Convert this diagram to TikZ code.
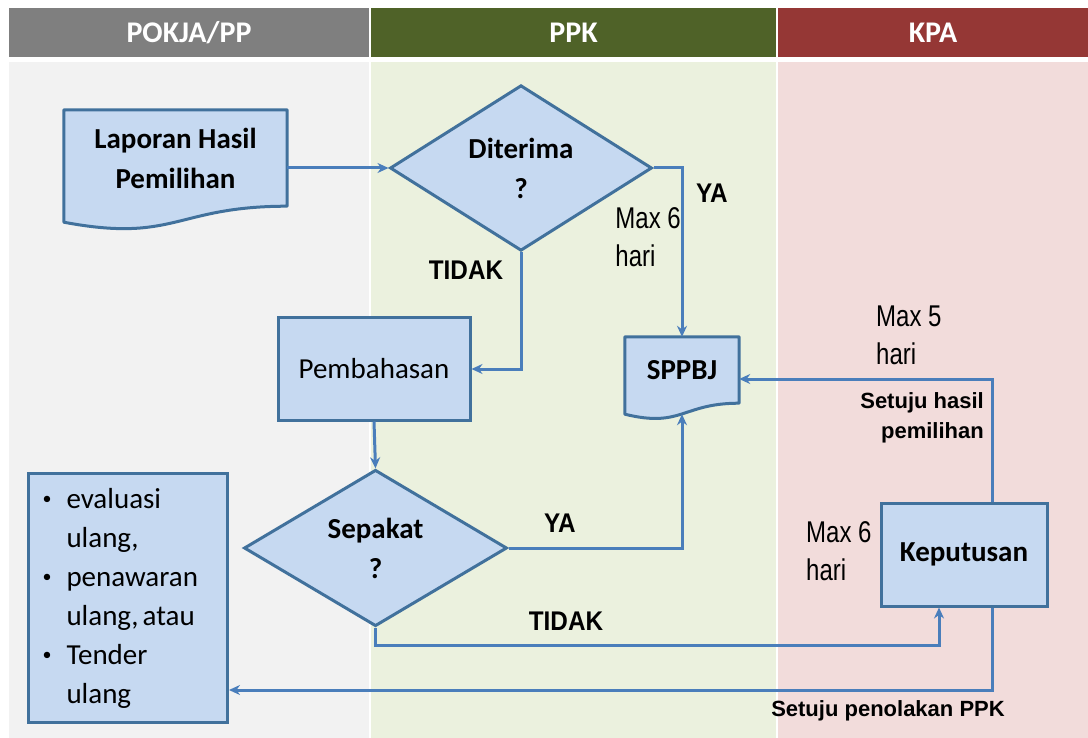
\documentclass[tikz,border=0pt]{standalone}
\usepackage{fontspec}
\setmainfont{Carlito}
\newfontfamily\arialfont{Liberation Sans}
\newfontfamily\narrowfont[FakeStretch=0.8]{Liberation Sans}
\newfontfamily\yesnofont[FakeStretch=0.9]{Liberation Sans}
\usetikzlibrary{shapes.geometric,arrows.meta,calc}
\definecolor{boxfill}{RGB}{198,217,241}
\definecolor{boxline}{RGB}{65,113,156}
\definecolor{flowline}{RGB}{74,126,187}
\definecolor{headgray}{RGB}{127,127,127}
\definecolor{headgreen}{RGB}{79,98,40}
\definecolor{headred}{RGB}{149,55,53}
\definecolor{lanegray}{RGB}{242,242,242}
\definecolor{lanegreen}{RGB}{235,241,222}
\definecolor{lanered}{RGB}{242,220,219}
\pgfdeclarelayer{lanes}
\pgfdeclarelayer{docs}
\pgfsetlayers{lanes,docs,main}
\newcommand{\bul}{\makebox[24pt][l]{\raisebox{3.5pt}{\fontsize{18}{18}\selectfont\textbullet}}}
\tikzset{
  head/.style={minimum height=49pt, inner sep=0pt, text=white, font=\fontsize{30}{32}\selectfont\bfseries},
  box/.style={draw=boxline, fill=boxfill, line width=3pt, align=center, inner sep=0pt, font=\fontsize{29}{40}\selectfont},
  dec/.style={box, diamond, font=\fontsize{29}{40}\selectfont\bfseries},
  doc/.style={align=center, inner sep=0pt, font=\fontsize{29}{40}\selectfont\bfseries},
  docshape/.style={draw=boxline, fill=boxfill, line width=3pt, line join=round},
  flow/.style={draw=flowline, line width=3pt, -{Stealth[length=11pt,width=10pt]}},
  lbl/.style={inner sep=0pt, font=\yesnofont\fontsize{27}{30}\selectfont\bfseries},
  lblsmall/.style={inner sep=0pt, align=right, font=\arialfont\fontsize{22}{30}\selectfont\bfseries},
  maxlbl/.style={inner sep=0pt, align=left, font=\narrowfont\fontsize{30}{38}\selectfont}
}

\begin{document}
\begin{tikzpicture}[x=1pt, y=-1pt]
  \useasboundingbox (0,0) rectangle (1088,738);
  % Lanes
  \begin{pgfonlayer}{lanes}
    \fill[white] (0,0) rectangle (1088,738);
    \fill[lanegray] (9,62) rectangle (369,738);
    \fill[lanegreen] (371,62) rectangle (776,738);
    \fill[lanered] (778,62) rectangle (1088,738);
  \end{pgfonlayer}
  \node[head, fill=headgray, minimum width=360pt] (HP) at (189,32.5) {POKJA/PP};
  \node[head, fill=headgreen, minimum width=405pt] (HK) at (573.5,32.5) {PPK};
  \node[head, fill=headred, minimum width=310pt] (HA) at (933,32.5) {KPA};
  % Nodes
  \node[doc, minimum width=223pt, minimum height=96pt] (LHP) at (175.5,158) {Laporan Hasil\\Pemilihan};
  \node[dec, minimum width=262pt, minimum height=154pt] (D1) at (521,168) {Diterima\\?};
  \node[box, minimum width=192pt, minimum height=102pt] (PB) at (374,369) {Pembahasan};
  \node[dec, minimum width=263pt, minimum height=153pt] (D2) at (375.5,548) {Sepakat\\?};
  \node[doc, minimum width=114pt, minimum height=66pt] (SP) at (682,370) {SPPBJ};
  \node[box, minimum width=166pt, minimum height=103pt, font=\fontsize{29}{40}\selectfont\bfseries] (KP) at (964,554.5) {Keputusan};
  \node[box, anchor=north west, minimum width=199pt, minimum height=249pt, text width=171pt, align=left, font=\fontsize{29}{39}\selectfont] (UL) at (27,472)
    {\bul evaluasi\\
     \hspace*{24pt}ulang,\\
     \bul penawaran\\
     \hspace*{24pt}ulang,\hspace{4pt}atau\\
     \bul Tender\\
     \hspace*{24pt}ulang};
  \begin{pgfonlayer}{docs}
    \path[docshape] (LHP.north west) -- (LHP.north east) -- (LHP.south east)
      .. controls (LHP.south) and ($(LHP.south)+(0,37)$) .. ($(LHP.south west)+(0,16)$) -- cycle;
    \path[docshape] (SP.north west) -- (SP.north east) -- (SP.south east)
      .. controls (SP.south) and ($(SP.south)+(0,25)$) .. ($(SP.south west)+(0,11)$) -- cycle;
  \end{pgfonlayer}
  \coordinate (spb) at ($(SP.south)+(0,11)$);
  % Labels
  \node[lbl] (ya1) at (712,193) {YA};
  \node[maxlbl, anchor=east] (max1) at (681,237) {Max 6\\hari};
  \node[lbl] (tidak1) at (466,270) {TIDAK};
  \node[lbl] (ya2) at (560,523) {YA};
  \node[lbl] (tidak2) at (566,621) {TIDAK};
  \node[maxlbl, anchor=west] (max5) at (876,335) {Max 5\\hari};
  \node[lblsmall, anchor=east] (agree) at (984,418) {Setuju hasil\\pemilihan};
  \node[maxlbl, anchor=west] (max6) at (806,551) {Max 6\\hari};
  \node[lblsmall] (reject) at (888,711) {Setuju penolakan PPK};
  % Edges
  \path[flow] (LHP.east |- D1.west) -- (D1.west);
  \path[flow] (D1.east) -| (SP.north);
  \path[flow] (D1.south) |- (PB.east);
  \path[flow] (PB.south) -- (D2.north);
  \path[flow] (D2.east) -| (spb);
  \path[flow] (D2.south) -- ++(0,18) -| ($(KP.south)+(-25,0)$);
  \path[flow] ($(KP.north)+(28,0)$) |- ($(SP.east)+(0,9)$);
  \path[flow] ($(KP.south)+(28,0)$) |- ($(UL.east)+(0,92)$);
\end{tikzpicture}
\end{document}
